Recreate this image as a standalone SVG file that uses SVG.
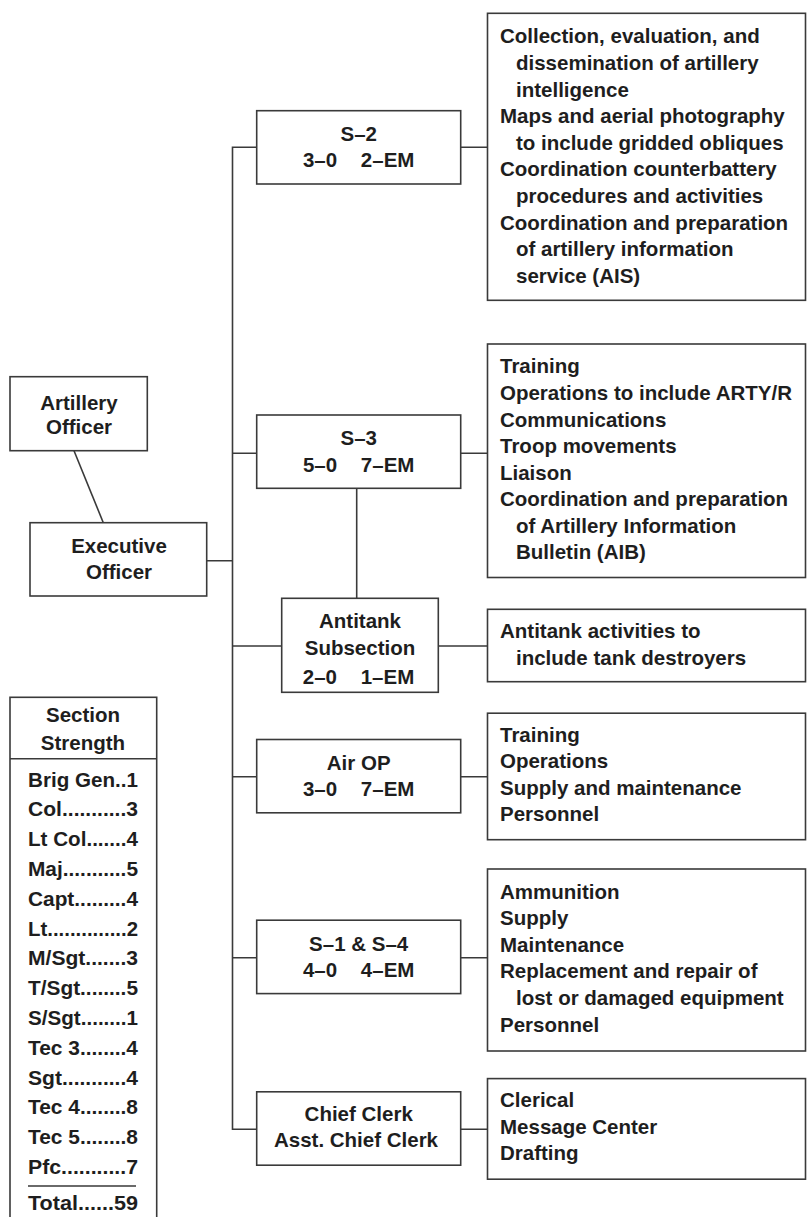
<svg xmlns="http://www.w3.org/2000/svg" width="807" height="1217" viewBox="0 0 807 1217">
<style>
.bx{fill:#fff;stroke:#3a3a3a;stroke-width:1.6}
.ln{fill:none;stroke:#3a3a3a;stroke-width:1.6}
text{font-family:"Liberation Sans",Arial,sans-serif;font-weight:bold;font-size:20.5px;fill:#1e1e1e}
.c{text-anchor:middle}
</style>
<rect width="807" height="1217" fill="#fff"/>
<g id="connectors">
<path class="ln" d="M257 147.3H232.5V1129.3H256.7"/>
<path class="ln" d="M206.7 560.7H232.5M232.5 453.3H256.7M232.5 646H281.7M232.5 776.7H256.7M232.5 957.7H256.7"/>
<path class="ln" d="M460.5 147.3H487.5M460.5 453.3H487.5M438.3 646H487.5M460.5 776.7H487.5M460.5 957.7H487.5M460.5 1129.3H487.5"/>
<path class="ln" d="M356.7 488.3V598.3"/>
<path class="ln" d="M74 450.7L103.3 522.7"/>
</g>
<g id="artillery-officer">
<rect class="bx" x="10" y="376.7" width="137.3" height="74"/>
<text class="c" x="79" y="410">Artillery</text>
<text class="c" x="79" y="434">Officer</text>
</g>
<g id="executive-officer">
<rect class="bx" x="30" y="522.7" width="176.7" height="73.3"/>
<text class="c" x="119" y="552.7">Executive</text>
<text class="c" x="119" y="579.3">Officer</text>
</g>
<g id="s2">
<rect class="bx" x="256.7" y="110.7" width="204" height="73.3"/>
<text class="c" x="358.7" y="140.7">S–2</text>
<text class="c" x="358.7" y="167.3">3–0 <tspan dx="18">2–EM</tspan></text>
</g>
<g id="s2-duties">
<rect class="bx" x="487.5" y="13.3" width="318" height="287"/>
<text x="500" y="43.3">Collection, evaluation, and</text>
<text x="516" y="69.9">dissemination of artillery</text>
<text x="516" y="96.5">intelligence</text>
<text x="500" y="123.1">Maps and aerial photography</text>
<text x="516" y="149.7">to include gridded obliques</text>
<text x="500" y="176.3">Coordination counterbattery</text>
<text x="516" y="202.9">procedures and activities</text>
<text x="500" y="229.5">Coordination and preparation</text>
<text x="516" y="256.1">of artillery information</text>
<text x="516" y="282.7">service (AIS)</text>
</g>
<g id="s3">
<rect class="bx" x="256.7" y="415" width="204" height="73.3"/>
<text class="c" x="358.7" y="445">S–3</text>
<text class="c" x="358.7" y="471.7">5–0 <tspan dx="18">7–EM</tspan></text>
</g>
<g id="s3-duties">
<rect class="bx" x="487.5" y="344" width="318" height="233.5"/>
<text x="500" y="373.3">Training</text>
<text x="500" y="400">Operations to include ARTY/R</text>
<text x="500" y="426.6">Communications</text>
<text x="500" y="453">Troop movements</text>
<text x="500" y="479.5">Liaison</text>
<text x="500" y="506">Coordination and preparation</text>
<text x="516" y="532.6">of Artillery Information</text>
<text x="516" y="559.2">Bulletin (AIB)</text>
</g>
<g id="antitank">
<rect class="bx" x="281.7" y="598.3" width="156.6" height="94"/>
<text class="c" x="360" y="628.3">Antitank</text>
<text class="c" x="360" y="654.5">Subsection</text>
<text class="c" x="358.5" y="684">2–0 <tspan dx="18">1–EM</tspan></text>
</g>
<g id="antitank-duties">
<rect class="bx" x="487.5" y="609.3" width="318" height="72.4"/>
<text x="500" y="638.3">Antitank activities to</text>
<text x="516" y="664.9">include tank destroyers</text>
</g>
<g id="air-op">
<rect class="bx" x="256.7" y="739.5" width="204" height="73.3"/>
<text class="c" x="358.7" y="770">Air OP</text>
<text class="c" x="358.7" y="796.3">3–0 <tspan dx="18">7–EM</tspan></text>
</g>
<g id="air-op-duties">
<rect class="bx" x="487.5" y="713.2" width="318" height="126.5"/>
<text x="500" y="741.5">Training</text>
<text x="500" y="768.1">Operations</text>
<text x="500" y="794.7">Supply and maintenance</text>
<text x="500" y="821.3">Personnel</text>
</g>
<g id="s1-s4">
<rect class="bx" x="256.7" y="920.2" width="204" height="73.4"/>
<text class="c" x="358.7" y="950.5">S–1 &amp; S–4</text>
<text class="c" x="358.7" y="976.7">4–0 <tspan dx="18">4–EM</tspan></text>
</g>
<g id="s1-s4-duties">
<rect class="bx" x="487.5" y="869" width="318" height="182"/>
<text x="500" y="898.5">Ammunition</text>
<text x="500" y="925.1">Supply</text>
<text x="500" y="951.7">Maintenance</text>
<text x="500" y="978.3">Replacement and repair of</text>
<text x="516" y="1004.9">lost or damaged equipment</text>
<text x="500" y="1031.5">Personnel</text>
</g>
<g id="chief-clerk">
<rect class="bx" x="256.7" y="1091.8" width="204" height="73.4"/>
<text class="c" x="358.7" y="1121">Chief Clerk</text>
<text class="c" x="356" y="1147.3">Asst. Chief Clerk</text>
</g>
<g id="chief-clerk-duties">
<rect class="bx" x="487.5" y="1078.6" width="318" height="100.6"/>
<text x="500" y="1107">Clerical</text>
<text x="500" y="1133.6">Message Center</text>
<text x="500" y="1160.2">Drafting</text>
</g>
<g id="section-strength">
<rect class="bx" x="10" y="697.3" width="146.7" height="530"/>
<path class="ln" d="M10 758.8H156.7M28 1186H136"/>
<text class="c" x="83" y="721.7">Section</text>
<text class="c" x="83" y="750">Strength</text>
<text x="28" y="786.5" textLength="110" lengthAdjust="spacingAndGlyphs">Brig Gen..1</text>
<text x="28" y="816.3" textLength="110" lengthAdjust="spacingAndGlyphs">Col...........3</text>
<text x="28" y="846.1" textLength="110" lengthAdjust="spacingAndGlyphs">Lt Col.......4</text>
<text x="28" y="875.9" textLength="110" lengthAdjust="spacingAndGlyphs">Maj...........5</text>
<text x="28" y="905.7" textLength="110" lengthAdjust="spacingAndGlyphs">Capt.........4</text>
<text x="28" y="935.5" textLength="110" lengthAdjust="spacingAndGlyphs">Lt..............2</text>
<text x="28" y="965.3" textLength="110" lengthAdjust="spacingAndGlyphs">M/Sgt.......3</text>
<text x="28" y="995.1" textLength="110" lengthAdjust="spacingAndGlyphs">T/Sgt........5</text>
<text x="28" y="1024.9" textLength="110" lengthAdjust="spacingAndGlyphs">S/Sgt........1</text>
<text x="28" y="1054.7" textLength="110" lengthAdjust="spacingAndGlyphs">Tec 3........4</text>
<text x="28" y="1084.5" textLength="110" lengthAdjust="spacingAndGlyphs">Sgt...........4</text>
<text x="28" y="1114.3" textLength="110" lengthAdjust="spacingAndGlyphs">Tec 4........8</text>
<text x="28" y="1144.1" textLength="110" lengthAdjust="spacingAndGlyphs">Tec 5........8</text>
<text x="28" y="1173.9" textLength="110" lengthAdjust="spacingAndGlyphs">Pfc...........7</text>
<text x="28" y="1210" textLength="110" lengthAdjust="spacingAndGlyphs">Total......59</text>
</g>
</svg>
